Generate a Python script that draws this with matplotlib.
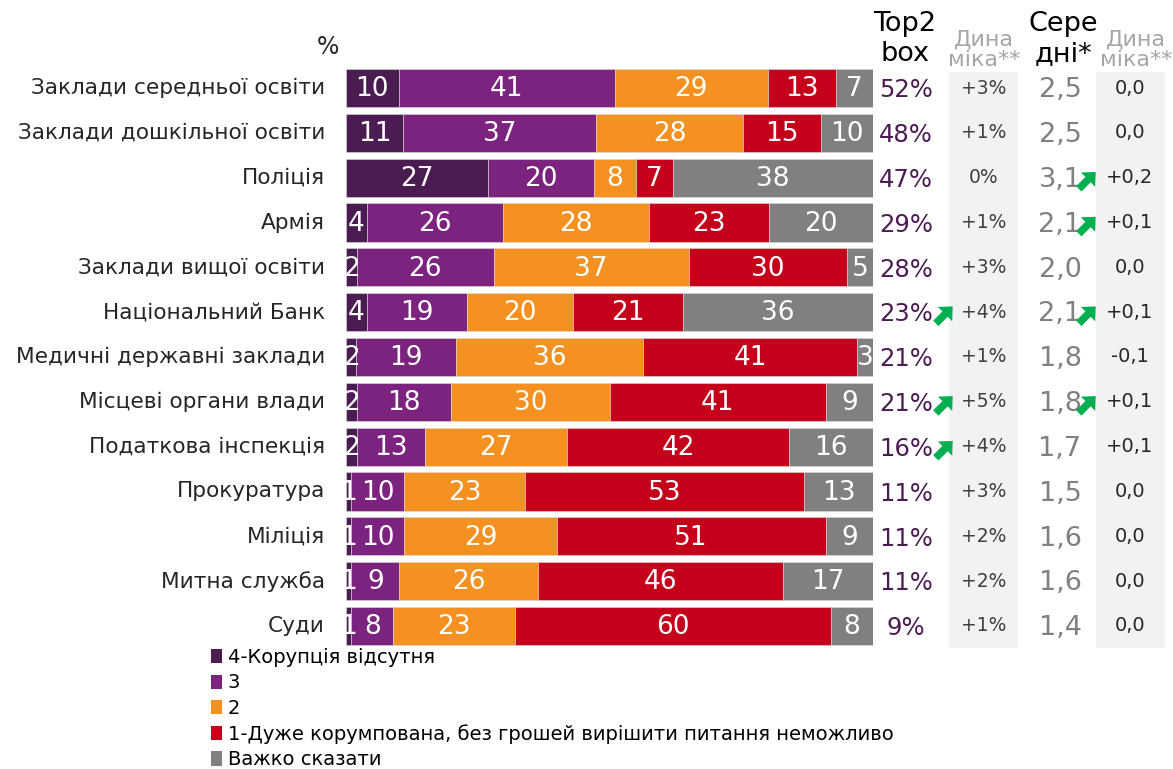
import matplotlib
matplotlib.use("Agg")
import matplotlib.pyplot as plt
import numpy as np
from matplotlib.patches import Patch, Polygon, Rectangle
import matplotlib.transforms as mtransforms

plt.rcParams["font.family"] = ["DejaVu Sans"]

CATEGORIES = [
    "Заклади середньої освіти",
    "Заклади дошкільної освіти",
    "Поліція",
    "Армія",
    "Заклади вищої освіти",
    "Національний Банк",
    "Медичні державні заклади",
    "Місцеві органи влади",
    "Податкова інспекція",
    "Прокуратура",
    "Міліція",
    "Митна служба",
    "Суди",
]
S4 = [10, 11, 27, 4, 2, 4, 2, 2, 2, 1, 1, 1, 1]
S3 = [41, 37, 20, 26, 26, 19, 19, 18, 13, 10, 10, 9, 8]
S2 = [29, 28, 8, 28, 37, 20, 36, 30, 27, 23, 29, 26, 23]
S1 = [13, 15, 7, 23, 30, 21, 41, 41, 42, 53, 51, 46, 60]
HARD = [7, 10, 38, 20, 5, 36, 3, 9, 16, 13, 9, 17, 8]
TOP2 = ["52%", "48%", "47%", "29%", "28%", "23%", "21%", "21%", "16%", "11%", "11%", "11%", "9%"]
TOP2_DYN = ["+3%", "+1%", "0%", "+1%", "+3%", "+4%", "+1%", "+5%", "+4%", "+3%", "+2%", "+2%", "+1%"]
TOP2_UP = [False, False, False, False, False, True, False, True, True, False, False, False, False]
MEAN = ["2,5", "2,5", "3,1", "2,1", "2,0", "2,1", "1,8", "1,8", "1,7", "1,5", "1,6", "1,6", "1,4"]
MEAN_DYN = ["0,0", "0,0", "+0,2", "+0,1", "0,0", "+0,1", "-0,1", "+0,1", "+0,1", "0,0", "0,0", "0,0", "0,0"]
MEAN_UP = [False, False, True, True, False, True, False, True, False, False, False, False, False]

SERIES = [S4, S3, S2, S1, HARD]
LEGEND = [
    "4-Корупція відсутня",
    "3",
    "2",
    "1-Дуже корумпована, без грошей вирішити питання неможливо",
    "Важко сказати",
]
COLORS = ["#4B1C52", "#7B237F", "#F59120", "#C5001A", "#808080"]

W, H = 1173, 769
fig = plt.figure(figsize=(W / 100, H / 100), dpi=100)


def fx(px):
    return px / W


def fy(py):
    return 1 - py / H


n = len(CATEGORIES)
row0, step = 88.0, 44.83
top_px = row0 - step / 2
bot_px = row0 + (n - 0.5) * step
ax = fig.add_axes([fx(346), fy(bot_px), fx(873) - fx(346), (bot_px - top_px) / H])

data = np.array(SERIES, dtype=float)
norm = data / data.sum(axis=0) * 100
y = np.arange(n)
left = np.zeros(n)
for k in range(len(SERIES)):
    ax.barh(y, norm[k], left=left, height=0.85, color=COLORS[k], edgecolor="#d9d9d9", linewidth=0.4)
    for i in range(n):
        ax.text(left[i] + norm[k][i] / 2, y[i] + 0.03, str(SERIES[k][i]), ha="center", va="center",
                color="white", fontsize=19)
    left += norm[k]

ax.set_xlim(0, 100)
ax.set_ylim(n - 0.5, -0.5)
ax.axis("off")

bt = mtransforms.blended_transform_factory(fig.transFigure, ax.transData)
for i, c in enumerate(CATEGORIES):
    ax.text(fx(325), y[i], c, transform=bt, ha="right", va="center",
            fontsize=15.6, color="#262626")

fig.text(fx(328), fy(47), "%", ha="center", va="center", fontsize=17, color="#262626")

# right-hand columns
for x0, x1 in [(949, 1018), (1096, 1165)]:
    ax.add_patch(Rectangle((fx(x0), -0.35), fx(x1) - fx(x0), n - 0.15, transform=bt,
                           facecolor="#F2F2F2", edgecolor="none", clip_on=False, zorder=0))

for i in range(n):
    ax.text(fx(906), y[i] + 0.05, TOP2[i], transform=bt, ha="center", va="center",
            fontsize=17.5, color="#4B1C52", clip_on=False)
    ax.text(fx(984), y[i], TOP2_DYN[i], transform=bt, ha="center", va="center",
            fontsize=13.5, color="#404040", clip_on=False)
    ax.text(fx(1060), y[i] + 0.05, MEAN[i], transform=bt, ha="center", va="center",
            fontsize=19.5, color="#808080", clip_on=False)
    ax.text(fx(1130), y[i], MEAN_DYN[i], transform=bt, ha="center", va="center",
            fontsize=14, color="#262626", clip_on=False)

# north-east arrow shape, pixel offsets (y up), pointing right before rotation
ARROW = 1.45 * np.array([[-8, -2.6], [1, -2.6], [1, -7], [8.5, 0], [1, 7], [1, 2.6], [-8, 2.6]])
rot = np.array([[np.cos(np.pi / 4), -np.sin(np.pi / 4)], [np.sin(np.pi / 4), np.cos(np.pi / 4)]])
ARROW = ARROW @ rot.T


def up_arrow(xc, i):
    yc = row0 + i * step + 3
    pts = [(fx(xc + dx), fy(yc - dy)) for dx, dy in ARROW]
    fig.patches.append(Polygon(pts, closed=True, transform=fig.transFigure,
                               facecolor="#00B050", edgecolor="none", zorder=5))


for i in range(n):
    if TOP2_UP[i]:
        up_arrow(944, i)
    if MEAN_UP[i]:
        up_arrow(1087, i)

# headers
fig.text(fx(905), fy(39), "Top2\nbox", ha="center", va="center", fontsize=19.5,
         color="black", linespacing=1.2)
fig.text(fx(984), fy(50), "Дина\nміка**", ha="center", va="center", fontsize=16,
         color="#A6A6A6", linespacing=1.05)
fig.text(fx(1063), fy(39), "Сере\nдні*", ha="center", va="center", fontsize=19.5,
         color="black", linespacing=1.2)
fig.text(fx(1136), fy(50), "Дина\nміка**", ha="center", va="center", fontsize=16,
         color="#A6A6A6", linespacing=1.05)

handles = [Patch(facecolor=c, edgecolor="none") for c in COLORS]
fig.legend(handles, LEGEND, loc="upper left", bbox_to_anchor=(fx(211), fy(648)),
           frameon=False, fontsize=14, handlelength=0.55, handleheight=0.75,
           handletextpad=0.3, labelspacing=0.33, borderaxespad=0, borderpad=0)

fig.savefig("out.png", dpi=100)
